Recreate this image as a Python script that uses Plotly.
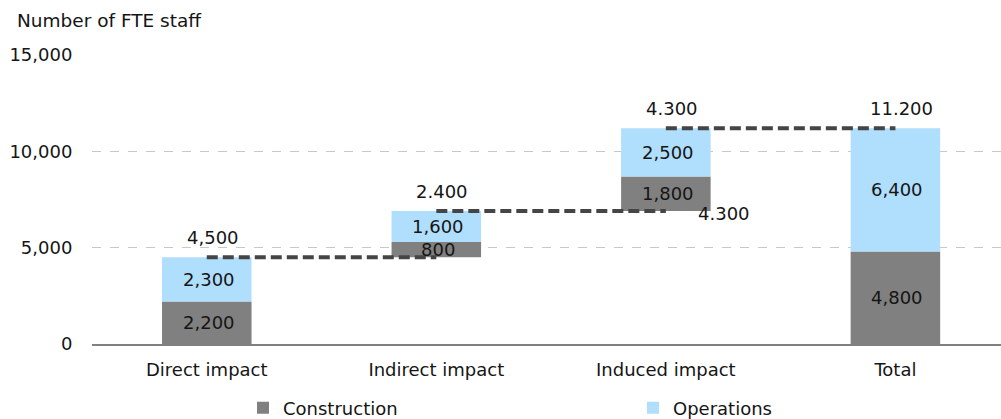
import plotly.graph_objects as go

categories = ["Direct impact", "Indirect impact", "Induced impact", "Total"]
construction = [2200, 800, 1800, 4800]
operations = [2300, 1600, 2500, 6400]
bases = [0, 4500, 6900, 0]
top_labels = ["4,500", "2.400", "4.300", "11.200"]
extra_label = "4.300"
ytick_vals = [0, 5000, 10000, 15000]
ytick_text = ["0", "5,000", "10,000", "15,000"]

FONT = "DejaVu Sans"
GRAY = "#808080"
BLUE = "#b0defd"
FS = 18

xs = list(range(len(categories)))
ops_base = [b + c for b, c in zip(bases, construction)]
tops = [b + c + o for b, c, o in zip(bases, construction, operations)]

fig = go.Figure()
fig.add_trace(go.Bar(x=xs, y=construction, base=bases, name="Construction",
                     marker=dict(color=GRAY, line=dict(width=0)), width=0.39, legend="legend"))
fig.add_trace(go.Bar(x=xs, y=operations, base=ops_base, name="Operations",
                     marker=dict(color=BLUE, line=dict(width=0)), width=0.39, legend="legend2"))

annotations = []
for i in xs:
    annotations.append(dict(x=i, y=bases[i] + construction[i] / 2, text=f"{construction[i]:,}",
                            showarrow=False, font=dict(size=FS, color="#151515"), xshift=2))
    annotations.append(dict(x=i, y=ops_base[i] + operations[i] / 2, text=f"{operations[i]:,}",
                            showarrow=False, font=dict(size=FS, color="#151515"), xshift=2))
    annotations.append(dict(x=i, y=tops[i], text=top_labels[i], showarrow=False,
                            font=dict(size=FS, color="#151515"), yshift=20, xshift=6))
# label to the right of the induced-impact bar at its base
annotations.append(dict(x=2.2, y=bases[2], text=extra_label, showarrow=False, xanchor="left",
                        font=dict(size=FS, color="#151515"), xshift=-16, yshift=-2))
annotations.append(dict(x=(15 - 92) / 909, y=1, xref="paper", yref="paper",
                        text="Number of FTE staff", showarrow=False, xanchor="left",
                        yanchor="middle", yshift=35, font=dict(size=18.5, color="#151515")))

# connector lines between consecutive totals
shapes = []
for i in range(len(categories) - 1):
    shapes.append(dict(type="line", xref="x", yref="y", x0=i, x1=i + 1,
                       y0=tops[i], y1=tops[i],
                       line=dict(color="#454545", width=4, dash="11px,5px")))

leg_common = dict(orientation="h", y=(344 - 408) / 289, xanchor="left", yanchor="middle",
                  font=dict(size=FS, color="#151515"), bgcolor="rgba(0,0,0,0)")
fig.update_layout(
    width=1001, height=419,
    margin=dict(l=92, r=0, t=55, b=75, autoexpand=False),
    paper_bgcolor="white", plot_bgcolor="white",
    barmode="overlay",
    font=dict(family=FONT, size=FS, color="#151515"),
    showlegend=True,
    legend=dict(x=(243 - 92) / 909, **leg_common),
    legend2=dict(x=(633 - 92) / 909, **leg_common),
    annotations=annotations,
    shapes=shapes,
)
fig.update_xaxes(range=[-0.5, 3.46], tickvals=xs, ticktext=categories, showgrid=False,
                 showline=True, linecolor="#808080", linewidth=2, ticks="outside", ticklen=8,
                 tickcolor="rgba(0,0,0,0)", zeroline=False, automargin=False)
fig.update_yaxes(range=[0, 15000], tickvals=ytick_vals, ticktext=ytick_text, showgrid=True,
                 gridcolor="#c8c8c8", griddash="dash", gridwidth=1, zeroline=False,
                 showline=False, ticks="outside", ticklen=15, tickcolor="rgba(0,0,0,0)",
                 automargin=False)
fig.write_html("out.html", config={"displayModeBar": False},
               post_script="document.body.style.margin='0';document.body.style.overflow='hidden';")
